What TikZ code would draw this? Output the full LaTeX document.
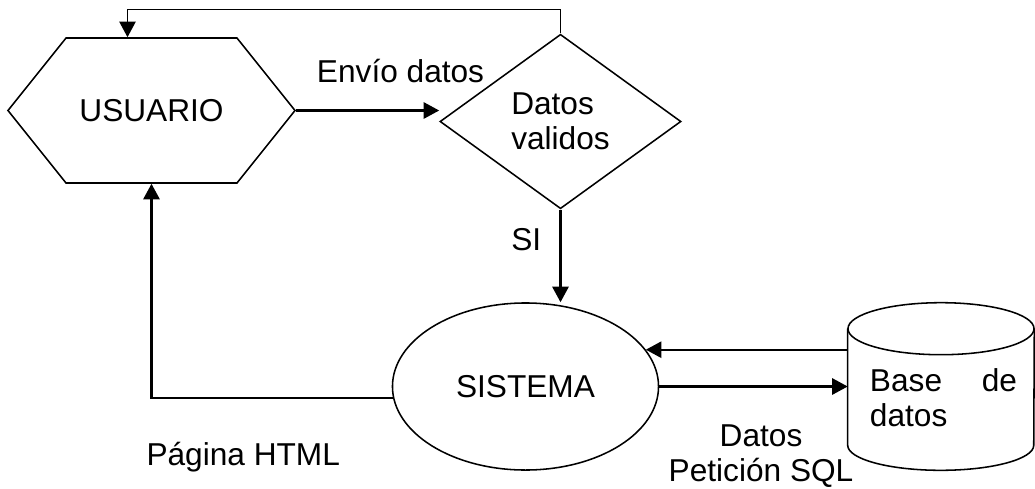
\documentclass[tikz,border=0pt]{standalone}
\usepackage{fontspec}
\setmainfont{Liberation Sans}
\usetikzlibrary{arrows.meta, positioning, calc, shapes.geometric, shapes.symbols}

\tikzset{
    flecha/.style={-{Triangle[length=11pt, width=11.5pt]}, line width=1.5pt},
    caja/.style={draw, line width=1.1pt},
}

\begin{document}
\begin{tikzpicture}[x=0.025cm, y=-0.025cm, font=\fontsize{22.5}{25}\selectfont]
    % Bounding box
    \useasboundingbox (0,0) rectangle (1035,488);

    % Nodes
    \node[caja, signal, signal to=west and east, signal pointer angle=102.6,
          minimum width=7.175cm, minimum height=3.625cm] (usuario) at (151.5,110.5) {USUARIO};
    \node[caja, diamond, minimum width=6.025cm, minimum height=4.175cm, align=left] (valid) at (560.5,121.5) {Datos\\validos};
    \node[caja, ellipse, minimum width=6.65cm, minimum height=4.175cm] (sistema) at (525.5,386.5) {SISTEMA};
    \node[minimum width=4.65cm, minimum height=4.175cm, inner sep=0pt] (db) at (941,386.5) {};
    \node[text width=3.675cm, align=left] (dbtexto) at (943.5,397.5) {Base\hfill de\\datos};

    % Cylinder
    \draw[caja] ($(db.north west)+(0,26)$) -- ($(db.south west)+(0,-25)$)
        arc[start angle=180, end angle=360, x radius=2.325cm, y radius=0.625cm]
        -- ($(db.north east)+(0,26)$);
    \draw[caja] ($(db.north)+(0,26)$) ellipse [x radius=2.325cm, y radius=0.65cm];

    % Connectors
    \draw[flecha, line width=1.1pt] (valid.north) -- ++(0,-24) -| ($(usuario.north)+(-24,0)$);
    \draw[flecha] (usuario.east) -- node[pos=0.73, above=0.55cm] (envio) {Envío datos} (usuario.east -| valid.west);
    \draw[flecha] (valid.south) -- node[pos=0.33, left=0.34cm] (si) {SI} (valid.south |- sistema.north);
    \draw[flecha] (sistema.185) -| node[pos=0.31, below=0.95cm] (html) {Página HTML} (usuario.south);
    \draw[flecha] (sistema.17 -| db.west) -- (sistema.17);
    \draw[flecha] (sistema.east) -- node[pos=0.54, below=0.82cm, align=center] (peticion) {Datos\\Petición SQL} (db.west);
\end{tikzpicture}
\end{document}
